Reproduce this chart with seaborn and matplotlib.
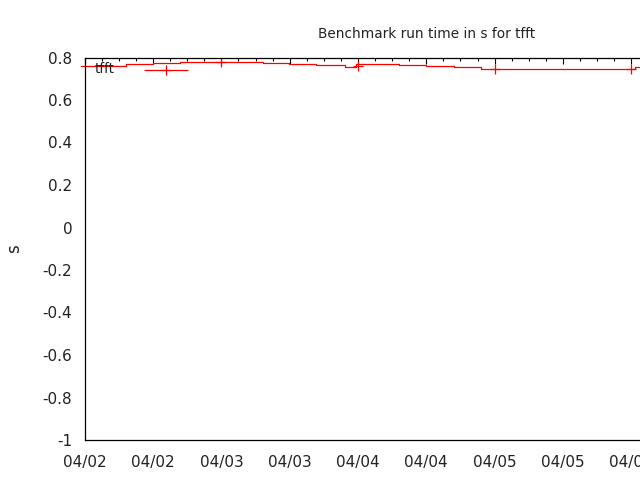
import pandas as pd
import matplotlib
matplotlib.use("Agg")
import matplotlib.pyplot as plt
import matplotlib.dates as mdates
import seaborn as sns

# start of the time axis and its span (hours)
t0 = pd.Timestamp("2014-04-02 00:00")
span_h = 120

# smoothed run time, drawn as steps: edges in hours after t0, value per step
step_edges_h = [-0.67, 7.2, 11.9, 16.7, 21.6, 26.4, 31.3, 35.9, 40.7, 45.7,
                47.6, 50.5, 55.2, 60.0, 64.9, 69.6, 96.7, 101.0]
step_values = [0.761, 0.768, 0.773, 0.778, 0.781, 0.777, 0.773, 0.768, 0.763,
               0.757, 0.770, 0.768, 0.763, 0.759, 0.754, 0.747, 0.754]

# individual runs with their time window (half width in hours)
run_h = [14.3, 24.0, 48.0, 72.0, 96.0]
run_s = [0.739, 0.780, 0.759, 0.747, 0.747]
run_halfwidth_h = [3.9, 0.0, 0.0, 0.0, 0.0]

title = "Benchmark run time in s for tfft"
y_ticks = [-1, -0.8, -0.6, -0.4, -0.2, 0, 0.2, 0.4, 0.6, 0.8]
y_labels = ["-1", "-0.8", "-0.6", "-0.4", "-0.2", "0", "0.2", "0.4", "0.6", "0.8"]

sns.set_theme(style="white")
plt.rcParams["font.family"] = ["DejaVu Sans"]
plt.rcParams["font.size"] = 9.8

steps = pd.DataFrame({
    "time": [t0 + pd.Timedelta(hours=h) for h in step_edges_h],
    "s": step_values + [step_values[-1]],
})
runs = pd.DataFrame({
    "time": [t0 + pd.Timedelta(hours=h) for h in run_h],
    "s": run_s,
})

fig = plt.figure(figsize=(6.4, 4.8), dpi=100)
ax = fig.add_axes([84.8 / 640, 40 / 480, 683 / 640, 382.5 / 480])

sns.lineplot(data=steps, x="time", y="s", drawstyle="steps-post",
             color="red", linewidth=0.9, ax=ax, estimator=None, sort=False)
for l in ax.lines:
    l.set_clip_on(False)

ax.errorbar(runs["time"], runs["s"],
            xerr=[pd.Timedelta(hours=h) for h in run_halfwidth_h],
            fmt="+", color="red", markersize=7, markeredgewidth=0.9,
            elinewidth=0.9, capsize=0)

ax.set_xlim(t0, t0 + pd.Timedelta(hours=span_h))
ax.set_ylim(-1, 0.8)
ax.set_yticks(y_ticks)
ax.set_yticklabels(y_labels)

ax.xaxis.set_major_locator(mdates.HourLocator(byhour=[0, 12]))
ax.xaxis.set_minor_locator(mdates.HourLocator(byhour=[3, 6, 9, 15, 18, 21]))
ax.xaxis.set_major_formatter(mdates.DateFormatter("%m/%d"))

ax.tick_params(axis="both", which="both", direction="in", top=True, right=True,
               colors="black", labelcolor="#222222")
ax.tick_params(axis="both", which="major", length=4.5, width=0.8)
ax.tick_params(axis="x", which="minor", length=2.5, width=0.8)
ax.tick_params(axis="y", which="major", pad=9)
ax.tick_params(axis="x", which="major", pad=11)

for sp in ax.spines.values():
    sp.set_color("black")
    sp.set_linewidth(0.9)

ax.set_title(title, fontsize=9.8, pad=14, color="#222222")
ax.set_xlabel("")
ylab = ax.set_ylabel("s", color="#222222")
ylab.set_verticalalignment("center")
ax.yaxis.set_label_coords(-0.1037, 0.5)
ax.text(0.015, 0.969, "tfft", transform=ax.transAxes, va="center",
        ha="left", color="#222222")

fig.savefig("out.png", dpi=100)
